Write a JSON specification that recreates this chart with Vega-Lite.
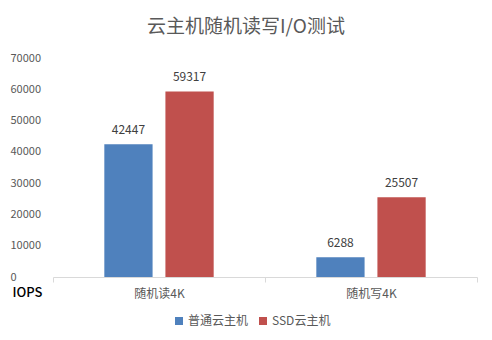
{
  "$schema": "https://vega.github.io/schema/vega-lite/v6.json",
  "autosize": "none",
  "width": 424,
  "height": 219,
  "padding": {"left": 53, "top": 58, "right": 15, "bottom": 63},
  "background": "white",
  "config": {
    "font": "Noto Sans CJK SC",
    "view": {"stroke": null}
  },
  "title": {
    "text": "云主机随机读写I/O测试",
    "fontSize": 19,
    "fontWeight": "normal",
    "color": "#595959",
    "anchor": "middle",
    "dx": -19,
    "offset": 15
  },
  "data": {
    "values": [
      {"cat": "随机读4K", "type": "普通云主机", "iops": 42447},
      {"cat": "随机读4K", "type": "SSD云主机", "iops": 59317},
      {"cat": "随机写4K", "type": "普通云主机", "iops": 6288},
      {"cat": "随机写4K", "type": "SSD云主机", "iops": 25507}
    ]
  },
  "encoding": {
    "x": {
      "field": "cat",
      "type": "nominal",
      "sort": null,
      "scale": {"paddingInner": 0, "paddingOuter": 0},
      "axis": {
        "title": null,
        "labelAngle": 0,
        "labelFontSize": 12,
        "labelColor": "#595959",
        "labelPadding": 6,
        "domainColor": "#D9D9D9",
        "tickColor": "#D9D9D9",
        "tickSize": 5,
        "tickBand": "extent"
      }
    },
    "xOffset": {
      "field": "type",
      "type": "nominal",
      "sort": ["普通云主机", "SSD云主机"],
      "scale": {"paddingInner": 0.21, "paddingOuter": 0.84}
    },
    "y": {
      "field": "iops",
      "type": "quantitative",
      "scale": {"domain": [0, 70000]},
      "axis": {
        "values": [0, 10000, 20000, 30000, 40000, 50000, 60000, 70000],
        "format": "d",
        "grid": false,
        "domain": false,
        "ticks": false,
        "labelAlign": "left",
        "labelPadding": 43,
        "labelFontSize": 11,
        "labelColor": "#595959",
        "title": "IOPS",
        "titleAngle": 0,
        "titleX": -41,
        "titleY": 234,
        "titleAlign": "left",
        "titleBaseline": "middle",
        "titleFontSize": 13,
        "titleFontWeight": 500,
        "titleColor": "#000000"
      }
    }
  },
  "layer": [
    {
      "mark": {"type": "bar"},
      "encoding": {
        "color": {
          "field": "type",
          "type": "nominal",
          "sort": ["普通云主机", "SSD云主机"],
          "scale": {"domain": ["普通云主机", "SSD云主机"], "range": ["#4F81BD", "#C0504D"]},
          "legend": {
            "title": null,
            "orient": "none",
            "direction": "horizontal",
            "legendX": 120,
            "legendY": 257,
            "symbolType": "square",
            "symbolSize": 64,
            "symbolStrokeWidth": 0,
            "labelFontSize": 12,
            "labelColor": "#595959",
            "labelOffset": 3,
            "columnPadding": 8
          }
        }
      }
    },
    {
      "mark": {"type": "text", "baseline": "bottom", "dy": -7, "fontSize": 12, "color": "#404040"},
      "encoding": {
        "text": {"field": "iops", "type": "quantitative", "format": "d"}
      }
    }
  ]
}
